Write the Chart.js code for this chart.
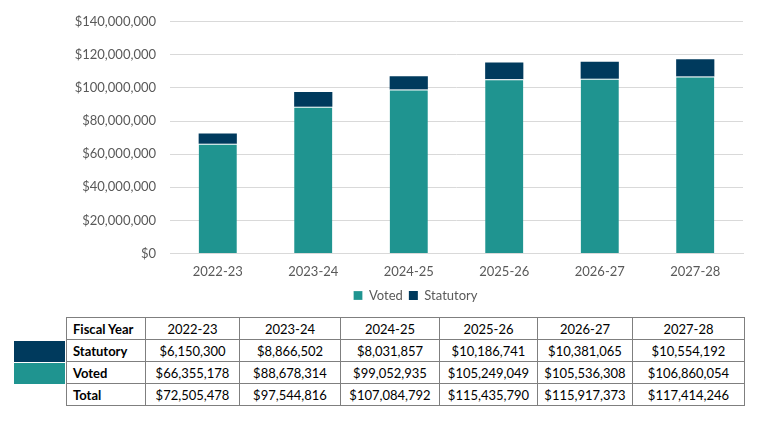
<!DOCTYPE html>
<html>
<head>
<meta charset="utf-8">
<script src="https://cdn.jsdelivr.net/npm/chart.js@4.4.1/dist/chart.umd.min.js"></script>
<style>
  html, body { margin: 0; padding: 0; background: #fff; }
  body { width: 759px; height: 432px; position: relative; overflow: hidden; font-family: Lato, "Open Sans", sans-serif; }
  #chartBox { position: absolute; left: 0; top: 0; width: 759px; height: 316px; }
  table { position: absolute; left: 66px; top: 317px; border-collapse: collapse; font-size: 13px; color: #000; }
  td { border: 1px solid #7f7f7f; height: 21px; padding: 0; text-align: center; }
  td.head { text-align: left; font-weight: bold; padding-left: 6px; }
  .swatch { position: absolute; left: 14px; width: 51px; height: 21px; }
</style>
</head>
<body>
<div id="chartBox"><canvas id="budgetChart"></canvas></div>
<div class="swatch" style="top:341px;background:#003A5D"></div>
<div class="swatch" style="top:363px;background:#1F9490"></div>
<table id="budgetTable"></table>
<script>
const years = ["2022-23", "2023-24", "2024-25", "2025-26", "2026-27", "2027-28"];
const voted = [66355178, 88678314, 99052935, 105249049, 105536308, 106860054];
const statutory = [6150300, 8866502, 8031857, 10186741, 10381065, 10554192];
const colWidths = [79, 94, 101, 99, 98, 95, 112];

const tealColor = "#1F9490";
const navyColor = "#003A5D";

function money(v) {
  return "$" + Math.round(v).toLocaleString("en-US");
}

// Table under the chart
function buildTable() {
  const table = document.getElementById("budgetTable");
  const totals = years.map((_, i) => voted[i] + statutory[i]);
  const rows = [
    ["Fiscal Year", years],
    ["Statutory", statutory.map(money)],
    ["Voted", voted.map(money)],
    ["Total", totals.map(money)],
  ];
  rows.forEach(([head, cells]) => {
    const tr = document.createElement("tr");
    const th = document.createElement("td");
    th.className = "head";
    th.textContent = head;
    th.style.width = colWidths[0] - 7 + "px";
    tr.appendChild(th);
    cells.forEach((c, i) => {
      const td = document.createElement("td");
      td.textContent = c;
      td.style.width = colWidths[i + 1] - 1 + "px";
      tr.appendChild(td);
    });
    table.appendChild(tr);
  });
}

buildTable();

// nudge the legend right so it sits where the original one does
const legendShift = {
  id: "legendShift",
  afterLayout(chart) {
    if (chart.legend) chart.legend.left = 88;
  },
};

const ctx = document.getElementById("budgetChart").getContext("2d");
new Chart(ctx, {
  type: "bar",
  data: {
    labels: years,
    datasets: [
      {
        label: "Voted",
        data: voted,
        backgroundColor: tealColor,
        borderColor: "#ffffff",
        borderWidth: { top: 1, left: 0, right: 0, bottom: 0 },
        categoryPercentage: 1,
        barPercentage: 0.4,
      },
      {
        label: "Statutory",
        data: statutory,
        backgroundColor: navyColor,
        borderWidth: 0,
        categoryPercentage: 1,
        barPercentage: 0.4,
      },
    ],
  },
  plugins: [legendShift],
  options: {
    responsive: true,
    maintainAspectRatio: false,
    animation: false,
    layout: { padding: { left: 0, right: 16, top: 21, bottom: 4 } },
    plugins: {
      tooltip: { enabled: false },
      legend: {
        position: "bottom",
        labels: {
          color: "#595959",
          font: { family: "Lato", size: 13 },
          boxWidth: 9,
          boxHeight: 9,
          padding: 6,
        },
      },
    },
    scales: {
      x: {
        stacked: true,
        grid: { display: false },
        border: { color: "#d9d9d9" },
        ticks: { color: "#595959", font: { family: "Lato", size: 13 }, padding: 3 },
      },
      y: {
        stacked: true,
        min: 0,
        max: 140000000,
        afterFit: (scale) => { scale.width = 170; },
        grid: { color: "#d9d9d9", drawTicks: false },
        border: { display: false },
        ticks: {
          stepSize: 20000000,
          color: "#595959",
          font: { family: "Lato", size: 13 },
          padding: 14,
          callback: (v) => money(v),
        },
      },
    },
  },
});
</script>
</body>
</html>
